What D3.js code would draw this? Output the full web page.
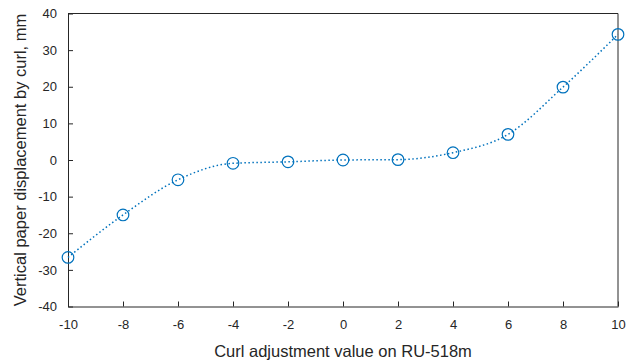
<!DOCTYPE html>
<html>
<head>
<meta charset="utf-8">
<script src="https://cdn.jsdelivr.net/npm/d3@7"></script>
<style>
  body { margin: 0; background: #fff; }
  svg { display: block; font-family: "Liberation Sans", Arial, sans-serif; }
</style>
</head>
<body>
<div id="chart"></div>
<script>
// data
var curlValues = [-10, -8, -6, -4, -2, 0, 2, 4, 6, 8, 10];
var displacement = [-26.6, -15.0, -5.4, -0.9, -0.5, 0.0, 0.1, 2.0, 7.0, 19.9, 34.3];
var xTicks = [-10, -8, -6, -4, -2, 0, 2, 4, 6, 8, 10];
var yTicks = [-40, -30, -20, -10, 0, 10, 20, 30, 40];

var width = 638, height = 363;
var margin = {top: 13.5, right: 20, bottom: 56.5, left: 68};
var axisColor = "#262626";
var blue = "#0072BD";

var data = curlValues.map(function(x, i) { return {x: x, y: displacement[i]}; });

var svg = d3.select("#chart")
    .append("svg")
    .attr("width", width)
    .attr("height", height);

var xScale = d3.scaleLinear().domain([-10, 10]).range([margin.left, width - margin.right]);
var yScale = d3.scaleLinear().domain([-40, 40]).range([height - margin.bottom, margin.top]);

// plain hyphen for negatives, like the original
var fmt = function(d) { return String(d); };

// axes, ticks pointing inward
var xAxis = svg.append("g")
    .attr("transform", "translate(0," + (height - margin.bottom) + ")")
    .call(d3.axisBottom(xScale).tickValues(xTicks).tickFormat(fmt)
        .tickSizeInner(-5).tickSizeOuter(0).tickPadding(13));

var yAxis = svg.append("g")
    .attr("transform", "translate(" + margin.left + ",0)")
    .call(d3.axisLeft(yScale).tickValues(yTicks).tickFormat(fmt)
        .tickSizeInner(-5).tickSizeOuter(0).tickPadding(11));

[xAxis, yAxis].forEach(function(g) {
    g.selectAll("path, line").attr("stroke", axisColor).attr("stroke-width", 1);
    g.selectAll("text")
        .attr("fill", axisColor)
        .style("font-size", "13px")
        .style("font-family", "'Liberation Sans', Arial, sans-serif");
});

// box top + right
svg.append("path")
    .attr("d", "M" + margin.left + "," + margin.top +
               "H" + (width - margin.right) +
               "V" + (height - margin.bottom))
    .attr("fill", "none")
    .attr("stroke", axisColor)
    .attr("stroke-width", 1);

// dotted smooth curve
var line = d3.line()
    .x(function(d) { return xScale(d.x); })
    .y(function(d) { return yScale(d.y); })
    .curve(d3.curveMonotoneX);

svg.append("path")
    .datum(data)
    .attr("d", line)
    .attr("fill", "none")
    .attr("stroke", blue)
    .attr("stroke-width", 1.5)
    .attr("stroke-dasharray", "1.5,2.5");

svg.append("g")
    .selectAll("circle")
    .data(data)
    .enter()
    .append("circle")
    .attr("cx", function(d) { return xScale(d.x); })
    .attr("cy", function(d) { return yScale(d.y); })
    .attr("r", 5.8)
    .attr("fill", "none")
    .attr("stroke", blue)
    .attr("stroke-width", 1.2);

// axis labels
svg.append("text")
    .attr("x", (margin.left + width - margin.right) / 2)
    .attr("y", 357)
    .attr("text-anchor", "middle")
    .attr("fill", axisColor)
    .style("font-size", "16.5px")
    .text("Curl adjustment value on RU-518m");

svg.append("text")
    .attr("transform", "translate(26," + ((margin.top + height - margin.bottom) / 2) + ") rotate(-90)")
    .attr("text-anchor", "middle")
    .attr("fill", axisColor)
    .style("font-size", "16.5px")
    .text("Vertical paper displacement by curl, mm");
</script>
</body>
</html>
